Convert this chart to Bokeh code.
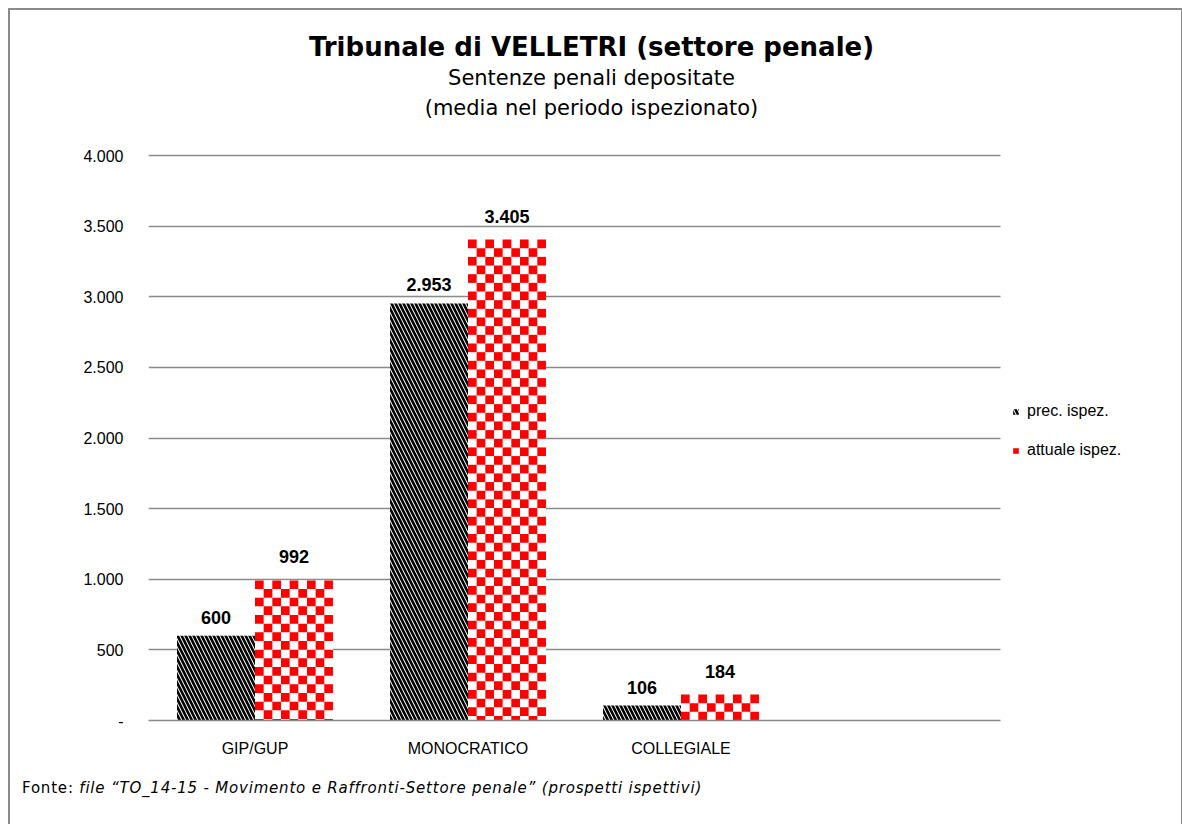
from bokeh.plotting import figure
from bokeh.layouts import column
from bokeh.models import (ColumnDataSource, Range1d, FixedTicker, Label, LabelSet,
                          Legend, LegendItem, Div)
from bokeh.transform import dodge
from bokeh.core.properties import value
from bokeh.embed import file_html
from bokeh.resources import INLINE

categories = ["GIP/GUP", "MONOCRATICO", "COLLEGIALE"]
prec = [600, 2953, 106]
attuale = [992, 3405, 184]
series_names = ["prec. ispez.", "attuale ispez."]
y_ticks = [0, 500, 1000, 1500, 2000, 2500, 3000, 3500, 4000]


def fmt(v):
    return "-" if v == 0 else f"{v:,}".replace(",", ".")


# ---- layout constants (pixels) ----
FIG_W, FIG_H = 1161, 760
BORDER_L, BORDER_R, BORDER_T, BORDER_B = 138, 1, 0, 50
FRAME_W = FIG_W - BORDER_L - BORDER_R
FRAME_H = FIG_H - BORDER_T - BORDER_B
PX_PER_CAT = 213.0          # width of one category slot
PX_PER_UNIT = 565.0 / 4000  # vertical scale
N_SLOTS = 4                 # three categories + one empty slot
X_END = FRAME_W / PX_PER_CAT
Y_END = FRAME_H / PX_PER_UNIT

xpos = [i + 0.5 for i in range(len(categories))]
bw = 0.366

src = ColumnDataSource(dict(
    x=xpos, cat=categories, prec=prec, attuale=attuale,
    prec_lbl=[fmt(v) for v in prec], att_lbl=[fmt(v) for v in attuale],
))

# checkerboard cells for the "attuale" bars, derived from the data values
N_COLS = 9
sq_x = bw / N_COLS
sq_y = sq_x * PX_PER_CAT / PX_PER_UNIT
cl, cr, ct, cb = [], [], [], []
for xc, v in zip(xpos, attuale):
    x0 = xc
    r = 0
    top = v
    while top > 0:
        bottom = max(0.0, top - sq_y)
        for c in range(N_COLS):
            if (r + c) % 2 == 0:
                cl.append(x0 + c * sq_x)
                cr.append(x0 + (c + 1) * sq_x)
                ct.append(top)
                cb.append(bottom)
        top = bottom
        r += 1
checker_src = ColumnDataSource(dict(left=cl, right=cr, top=ct, bottom=cb))

p = figure(
    x_range=Range1d(0, X_END), y_range=Range1d(0, Y_END),
    width=FIG_W, height=FIG_H, output_backend="svg", toolbar_location=None,
    min_border_left=BORDER_L, min_border_right=BORDER_R,
    min_border_top=BORDER_T, min_border_bottom=BORDER_B,
)
p.outline_line_color = None
p.background_fill_color = "white"
p.border_fill_color = "white"

r1 = p.vbar(x=dodge("x", -bw / 2), top="prec", width=bw, source=src,
            fill_color="white", line_color=None,
            hatch_pattern="left_diagonal_line", hatch_color="black",
            hatch_scale=8, hatch_weight=2.6)
r2 = p.vbar(x=dodge("x", bw / 2), top="attuale", width=bw, source=src,
            fill_color="white", line_color=None)
r3 = p.quad(left="left", right="right", top="top", bottom="bottom", source=checker_src,
            fill_color="#ff0000", line_color=None)

lbl_font = value("Liberation Sans")
for xoff, col, lab, yoff in [(-bw / 2, "prec", "prec_lbl", 12), (bw / 2, "attuale", "att_lbl", 17)]:
    p.add_layout(LabelSet(x=dodge("x", xoff), y=col, text=lab,
                          source=src, text_align="center", text_baseline="bottom", y_offset=yoff,
                          text_font=lbl_font, text_font_size="18px", text_font_style="bold",
                          text_color="black"))

# axes
p.yaxis.ticker = FixedTicker(ticks=y_ticks)
p.yaxis.major_label_overrides = {t: fmt(t) for t in y_ticks}
p.yaxis.axis_line_color = None
p.yaxis.major_tick_line_color = None
p.yaxis.minor_tick_line_color = None
p.yaxis.major_label_standoff = 19
p.yaxis.major_label_text_font = "Liberation Sans"
p.yaxis.major_label_text_font_size = "16px"
p.yaxis.major_label_text_color = "black"

p.xaxis.ticker = FixedTicker(ticks=xpos)
p.xaxis.major_label_overrides = {x: c for x, c in zip(xpos, categories)}
p.xaxis.bounds = (0, N_SLOTS)
p.xaxis.axis_line_color = "#8a8a8a"
p.xaxis.axis_line_width = 1.5
p.xaxis.major_tick_line_color = None
p.xaxis.minor_tick_line_color = None
p.xaxis.major_label_standoff = 13
p.xaxis.major_label_text_font = "Liberation Sans"
p.xaxis.major_label_text_font_size = "16px"
p.xaxis.major_label_text_color = "black"

p.xgrid.grid_line_color = None
p.ygrid.ticker = FixedTicker(ticks=y_ticks)
p.ygrid.cross_bounds = (0, N_SLOTS)
p.ygrid.grid_line_color = "#8a8a8a"
p.ygrid.grid_line_width = 1.5

# titles (inside the tall frame, above the 4.000 line)
TITLE_X = 443
for text, yy, style, size in [
    ("Tribunale di VELLETRI (settore penale)", 674, "bold", "26px"),
    ("Sentenze penali depositate", 643, "normal", "21px"),
    ("(media nel periodo ispezionato)", 613, "normal", "21px"),
]:
    p.add_layout(Label(x=TITLE_X, y=yy, x_units="screen", y_units="screen", text=text,
                       text_align="center", text_baseline="middle",
                       text_font="DejaVu Sans", text_font_style=style,
                       text_font_size=size, text_color="black"))

legend = Legend(items=[LegendItem(label=series_names[0], renderers=[r1]),
                       LegendItem(label=series_names[1], renderers=[r2, r3])],
                location=(864, 261), orientation="vertical",
                glyph_width=7, glyph_height=7, label_height=18, label_standoff=8,
                spacing=21, padding=0, margin=0,
                border_line_color=None, background_fill_alpha=0,
                label_text_font="Liberation Sans", label_text_font_size="16px",
                label_text_color="black")
p.add_layout(legend, "center")

footer = Div(
    text=("Fonte: <i>file \u201cTO_14-15 - Movimento e Raffronti-Settore penale\u201d "
          "(prospetti ispettivi)</i>"),
    width=FIG_W, height=50,
    styles={"font-family": "DejaVu Sans", "font-size": "15px", "color": "black",
            "letter-spacing": "0.8px", "padding-left": "7px", "padding-top": "3px",
            "background": "white", "box-sizing": "border-box"},
)

layout = column(p, footer, spacing=0,
                styles={"border-top": "2px solid #8a8a8a", "border-left": "2px solid #8a8a8a",
                        "border-right": "2px solid #8a8a8a", "margin": "8px 0 0 8px",
                        "background": "white"})

open("out.html", "w").write(file_html(layout, INLINE))
